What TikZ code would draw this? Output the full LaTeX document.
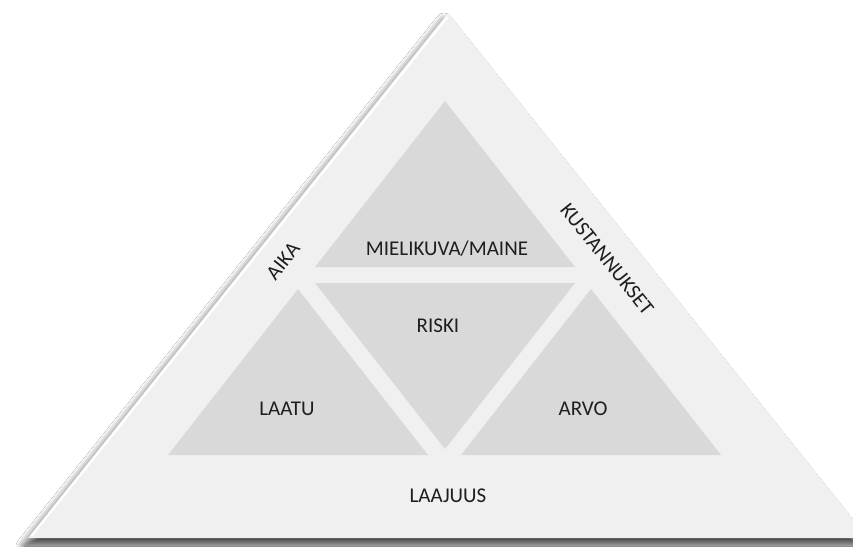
\documentclass[tikz,border=0pt]{standalone}
\usepackage{fontspec}
\setmainfont{Carlito}
\usetikzlibrary{shadows.blur}
\definecolor{outerfill}{HTML}{F0F0F0}
\definecolor{innerfill}{HTML}{D9D9D9}
\definecolor{txt}{HTML}{1E1E1E}
\tikzset{
  outertri/.style={fill=outerfill, draw=none},
  innertri/.style={fill=innerfill, draw=none},
  lbl/.style={text=txt, font=\fontsize{21}{24}\selectfont, inner sep=0pt},
}
\begin{document}
\begin{tikzpicture}[x=1pt,y=-1pt]
\useasboundingbox (0,0) rectangle (853,546);
\fill[white] (0,0) rectangle (853,546);
% outer triangle with shadow
\path[outertri, blur shadow={shadow xshift=-4pt, shadow yshift=-8pt, shadow blur steps=12, shadow blur radius=8pt, shadow opacity=75}]
  (448,13) -- (28,538) -- (868,538) -- cycle;
\draw[white, line width=2pt] (447.5,17) -- (31.5,536);
% inner triangles
\path[innertri] (445,101) -- (315,267) -- (575,267) -- cycle;
\path[innertri] (315,283) -- (575,283) -- (445,449) -- cycle;
\path[innertri] (298,289) -- (168,455) -- (428,455) -- cycle;
\path[innertri] (591,289) -- (461,455) -- (721,455) -- cycle;
% labels
\node[lbl] (maine) at (447,249) {MIELIKUVA/MAINE};
\node[lbl] (riski) at (438,326) {RISKI};
\node[lbl] (laatu) at (287,409) {LAATU};
\node[lbl] (arvo) at (583,409) {ARVO};
\node[lbl] (laajuus) at (448,496) {LAAJUUS};
\node[lbl, rotate=51.3] (aika) at (283,261) {AIKA};
\node[lbl, rotate=-51.3] (kust) at (607,259) {KUSTANNUKSET};
\end{tikzpicture}
\end{document}
